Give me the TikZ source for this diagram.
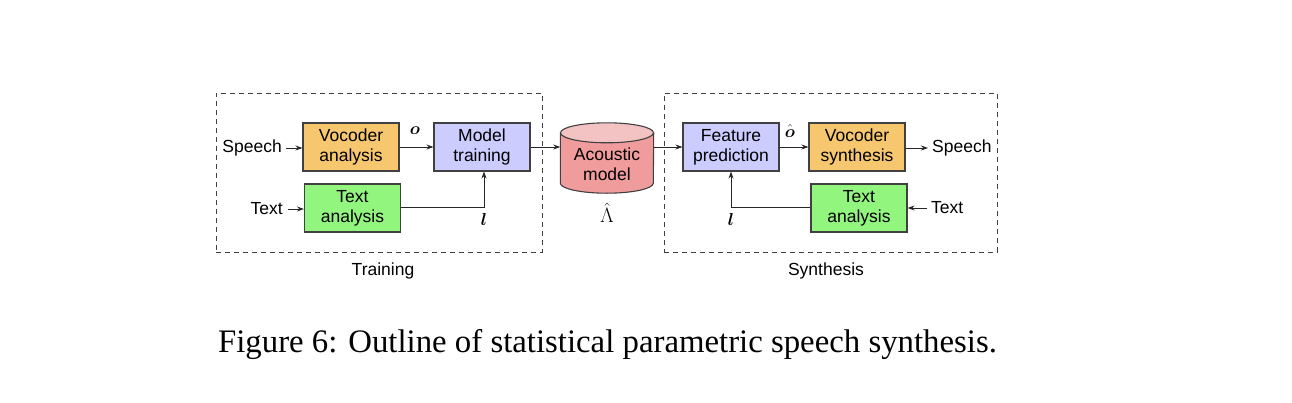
\documentclass[tikz,border=0pt]{standalone}
\usepackage{amsmath}
\usepackage{fontspec}
\setmainfont{Liberation Serif}
\newfontfamily\diagfont{Liberation Sans}
\usetikzlibrary{arrows.meta}
\definecolor{vocor}{HTML}{F6C76F}
\definecolor{lav}{HTML}{CCCCFF}
\definecolor{grn}{HTML}{92F67E}
\definecolor{cylbody}{HTML}{F19C9C}
\definecolor{cyltop}{HTML}{F3C3C3}
\definecolor{edge}{HTML}{404040}
\tikzset{
  blk/.style={draw=edge, line width=1.1pt, minimum width=96pt, minimum height=48pt,
    align=center, inner sep=0pt, font=\diagfont\fontsize{17.5}{20}\selectfont},
  lbl/.style={inner sep=0pt, font=\diagfont\fontsize{17.5}{20}\selectfont},
  mlbl/.style={inner sep=0pt, font=\fontsize{18}{20}\selectfont},
  arr/.style={draw=black!85, line width=1pt, -{Stealth[length=7pt,width=5pt]}},
  grp/.style={draw=black!75, line width=1pt, dash pattern=on 5pt off 4pt},
}
\begin{document}
\begin{tikzpicture}[x=1pt,y=-1pt]
\useasboundingbox (0,0) rectangle (1292,402);
% group boxes
\node[grp, minimum width=326pt, minimum height=159pt, inner sep=0pt] (gtrain) at (379,172.5) {};
\node[grp, minimum width=333pt, minimum height=159pt, inner sep=0pt] (gsyn) at (830.5,172.5) {};
\node[lbl] (ttrain) at (383,271) {Training};
\node[lbl] (tsyn) at (826,271) {Synthesis};
% training side
\node[blk, fill=vocor] (va) at (351,147) {Vocoder\\analysis};
\node[blk, fill=lav] (mt) at (482,147) {Model\\training};
\node[blk, fill=grn] (ta1) at (352.5,208) {Text\\analysis};
\node[lbl, anchor=east] (sp1) at (282,148) {Speech};
\node[lbl, anchor=east] (tx1) at (283,209) {Text};
\draw[arr] (sp1.east) ++(4,0) coordinate (sp1a) -- (va.west |- sp1a);
\draw[arr] (tx1.east) ++(5,0) coordinate (tx1a) -- (ta1.west |- tx1a);
\draw[arr] (va.east) -- (mt.west);
\node[mlbl] (o1) at (415,131) {$\boldsymbol{o}$};
\coordinate (c1) at (484,207);
\draw[arr] (ta1.east |- c1) -- (c1) -- (c1 |- mt.south);
\node[mlbl] (l1) at (484,219) {$\boldsymbol{l}$};
% cylinder
\node[inner sep=0pt, minimum width=93pt, minimum height=50pt] (cyl) at (607,158) {};
\fill[cylbody] (cyl.north west) -- (cyl.south west) arc[start angle=180, end angle=360, x radius=46.5pt, y radius=10pt]
  -- (cyl.north east) -- cycle;
\fill[cyltop] (cyl.north) ellipse[x radius=46.5pt, y radius=10pt];
\draw[edge, line width=1.1pt] (cyl.north west) -- (cyl.south west) arc[start angle=180, end angle=360, x radius=46.5pt, y radius=10pt]
  -- (cyl.north east);
\draw[edge, line width=1.1pt] (cyl.north) ellipse[x radius=46.5pt, y radius=10pt];
\node[lbl, align=center] (cyltxt) at (607,164) {Acoustic\\model};
\node[inner sep=0pt, font=\fontsize{21}{22}\selectfont] (lam) at (607,213) {$\hat{\Lambda}$};
\draw[arr] (mt.east) -- (cyl.west |- mt.east);
% synthesis side
\node[blk, fill=lav] (fp) at (731,147) {Feature\\prediction};
\node[blk, fill=vocor] (vs) at (857,147) {Vocoder\\synthesis};
\node[blk, fill=grn] (ta2) at (859,208) {Text\\analysis};
\draw[arr] (cyl.east |- fp.west) -- (fp.west);
\draw[arr] (fp.east) -- (vs.west);
\node[mlbl] (o2) at (790,131) {$\hat{\boldsymbol{o}}$};
\node[lbl, anchor=west] (sp2) at (932,148) {Speech};
\node[lbl, anchor=west] (tx2) at (931,208) {Text};
\draw[arr] (vs.east |- sp2.west) -- ([xshift=-4pt]sp2.west);
\draw[arr] ([xshift=-4pt]tx2.west) -- (ta2.east |- tx2.west);
\coordinate (c2) at (731,207);
\draw[arr] (ta2.west |- c2) -- (c2) -- (fp.south);
\node[mlbl] (l2) at (731,219) {$\boldsymbol{l}$};
% caption
\node[inner sep=0pt, font=\fontsize{32.8}{36}\selectfont] (cap) at (607.5,344) {Figure 6: Outline of statistical parametric speech synthesis.};
\end{tikzpicture}
\end{document}
